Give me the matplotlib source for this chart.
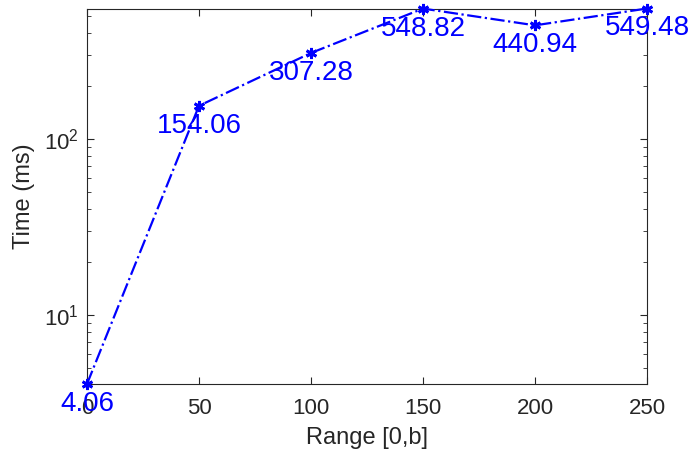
import numpy as np
import matplotlib.pyplot as plt
from matplotlib.ticker import LogLocator, NullFormatter, FixedLocator

plt.rcParams['font.family'] = ['Liberation Sans', 'DejaVu Sans']

ranges = [0, 50, 100, 150, 200, 250]
times = [4.06, 154.06, 307.28, 548.82, 440.94, 549.48]
labels = ['4.06', '154.06', '307.28', '548.82', '440.94', '549.48']

fig = plt.figure(figsize=(6.88, 4.57), dpi=100)
ax = fig.add_axes([87 / 688, 1 - 384 / 457, (647 - 87) / 688, (384 - 8.5) / 457])

ax.plot(ranges, times, color='blue', linestyle='-.', linewidth=1.6,
        marker=(6, 2, 0), markersize=8, markeredgewidth=2,
        clip_on=False, zorder=3)
for x, y, s in zip(ranges, times, labels):
    ax.annotate(s, (x, y), xytext=(0, -5), textcoords='offset points',
                ha='center', va='top', fontsize=20, color='blue',
                annotation_clip=False, zorder=4)

ax.set_yscale('log')
ax.set_xlim(0, 250)
ax.set_ylim(4.06, 549.48)
ax.xaxis.set_major_locator(FixedLocator(ranges))
ax.yaxis.set_major_locator(FixedLocator([10, 100]))
ax.yaxis.set_minor_locator(LogLocator(base=10, subs=np.arange(2, 10)))
ax.yaxis.set_minor_formatter(NullFormatter())

dark = '#262626'
for sp in ax.spines.values():
    sp.set_color(dark)
    sp.set_linewidth(0.8)
ax.tick_params(which='both', direction='in', top=True, right=True,
               colors=dark, labelsize=16)
ax.tick_params(which='major', length=5)
ax.tick_params(which='minor', length=3)
ax.tick_params(axis='x', pad=10)
ax.tick_params(axis='y', pad=6)

ax.set_xlabel('Range [0,b]', fontsize=17, color=dark, labelpad=6)
ax.set_ylabel('Time (ms)', fontsize=17, color=dark, labelpad=6)

fig.savefig('out.png', dpi=100)
